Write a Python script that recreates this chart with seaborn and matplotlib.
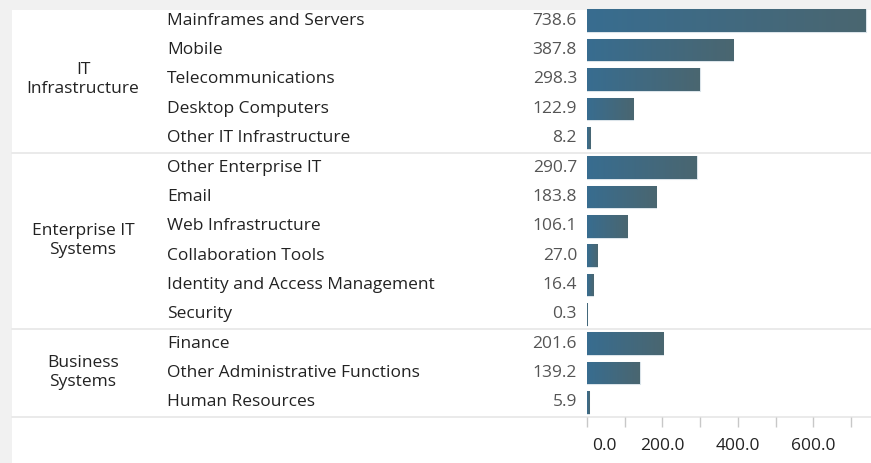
import numpy as np
import pandas as pd
import matplotlib
matplotlib.use("Agg")
import matplotlib.pyplot as plt
import matplotlib.transforms as mtransforms
from matplotlib.patches import Rectangle
from matplotlib.colors import LinearSegmentedColormap
import seaborn as sns

# data
group_names = ["IT\nInfrastructure", "Enterprise IT\nSystems", "Business\nSystems"]
group_sizes = [5, 6, 3]
categories = [
    "Mainframes and Servers", "Mobile", "Telecommunications", "Desktop Computers",
    "Other IT Infrastructure",
    "Other Enterprise IT", "Email", "Web Infrastructure", "Collaboration Tools",
    "Identity and Access Management", "Security",
    "Finance", "Other Administrative Functions", "Human Resources",
]
values = [738.6, 387.8, 298.3, 122.9, 8.2,
          290.7, 183.8, 106.1, 27.0, 16.4, 0.3,
          201.6, 139.2, 5.9]
tick_values = [0, 100, 200, 300, 400, 500, 600, 700]
tick_labels = ["0.0", "", "200.0", "", "400.0", "", "600.0", ""]

groups = [g for g, n in zip(group_names, group_sizes) for _ in range(n)]
df = pd.DataFrame({"group": groups, "category": categories, "value": values})

sns.set_theme(style="white")
plt.rcParams["font.family"] = ["Open Sans", "DejaVu Sans"]
fs = 12.5

W, H = 871, 463
fig = plt.figure(figsize=(W / 100, H / 100), dpi=100, facecolor="#f1f1f1")
fig.patches.append(Rectangle((12 / W, 0), 1, 1 - 10 / H, transform=fig.transFigure,
                             facecolor="white", edgecolor="none", zorder=-10))

row = 29.35
bottom_px = 417
top_px = bottom_px - row * len(categories)
ax = fig.add_axes([587 / W, 1 - bottom_px / H, (W - 587) / W, (bottom_px - top_px) / H])
ax.patch.set_alpha(0)

sns.barplot(data=df, x="value", y="category", orient="h", color="#3a6d8e",
            width=0.77, saturation=1, edgecolor="#dbe4ea", linewidth=0.8, ax=ax)

# horizontal gradient inside each bar
cmap = LinearSegmentedColormap.from_list("bar", ["#386d90", "#4a6670"])
grad = np.linspace(0, 1, 256).reshape(1, -1)
for p in list(ax.patches):
    x0, y0, w, h = p.get_x(), p.get_y(), p.get_width(), p.get_height()
    im = ax.imshow(grad, extent=[x0, x0 + w, y0 + h, y0], aspect="auto", cmap=cmap,
                   zorder=p.get_zorder() + 0.1)
    im.set_clip_path(p)

ax.set_xlim(0, 753)
ax.set_ylim(len(categories) - 0.5, -0.5)
for s in ax.spines.values():
    s.set_visible(False)
ax.set_xlabel("")
ax.set_ylabel("")
ax.set_yticks([])
ax.set_xticks(tick_values)
ax.set_xticklabels(tick_labels)
ax.tick_params(axis="x", bottom=True, length=7, width=1, color="#c8c8c8",
               pad=8, labelsize=fs, labelcolor="#222222")
# first label sits a little right of its tick
lab0 = ax.get_xticklabels()[0]
lab0.set_transform(lab0.get_transform() + mtransforms.ScaledTranslation(0.17, 0, fig.dpi_scale_trans))

tr = mtransforms.blended_transform_factory(fig.transFigure, ax.transData)
for i, (cat, v) in enumerate(zip(categories, values)):
    ax.text(167 / W, i, cat, transform=tr, ha="left", va="center",
            fontsize=fs, color="#222222")
    ax.text(577 / W, i, f"{v:.1f}", transform=tr, ha="right", va="center",
            fontsize=fs, color="#555555")

start = 0
for g, n in zip(group_names, group_sizes):
    mid = start + (n - 1) / 2
    ax.text(83 / W, mid, g, transform=tr, ha="center", va="center",
            fontsize=fs, color="#222222", linespacing=1.25)
    end = start + n - 0.5
    ax.plot([12 / W, 1], [end, end], transform=tr, color="#e8e8e8", lw=1.3,
            clip_on=False, zorder=0.5)
    start += n

fig.savefig("out.png", dpi=100, facecolor=fig.get_facecolor())
